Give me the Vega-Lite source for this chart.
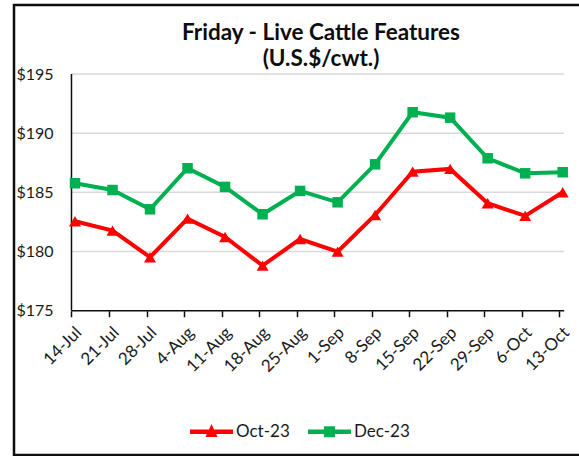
{
  "$schema": "https://vega.github.io/schema/vega-lite/v6.json",
  "width": 565,
  "height": 450,
  "autosize": "none",
  "padding": {"left": 14, "top": 5, "right": 0, "bottom": 1},
  "background": "white",
  "config": {
    "font": "Lato",
    "view": {"stroke": "#0d0d0d", "strokeWidth": 2.5, "strokeDash": [565, 450, 1015]}
  },
  "title": {
    "text": ["Friday - Live Cattle Features", "(U.S.$/cwt.)"],
    "font": "Lato",
    "fontSize": 22.5,
    "fontWeight": "bold",
    "color": "#0d0d0d",
    "anchor": "middle",
    "frame": "group",
    "dx": 24.5,
    "offset": -65,
    "baseline": "top",
    "lineHeight": 26
  },
  "datasets": {
    "prices": [
      {"date": "2023-07-14T00:00", "series": "Oct-23", "price": 182.56},
      {"date": "2023-07-21T00:00", "series": "Oct-23", "price": 181.77},
      {"date": "2023-07-28T00:00", "series": "Oct-23", "price": 179.52},
      {"date": "2023-08-04T00:00", "series": "Oct-23", "price": 182.78},
      {"date": "2023-08-11T00:00", "series": "Oct-23", "price": 181.23},
      {"date": "2023-08-18T00:00", "series": "Oct-23", "price": 178.81},
      {"date": "2023-08-25T00:00", "series": "Oct-23", "price": 181.06},
      {"date": "2023-09-01T00:00", "series": "Oct-23", "price": 179.99},
      {"date": "2023-09-08T00:00", "series": "Oct-23", "price": 183.09},
      {"date": "2023-09-15T00:00", "series": "Oct-23", "price": 186.75},
      {"date": "2023-09-22T00:00", "series": "Oct-23", "price": 186.98},
      {"date": "2023-09-29T00:00", "series": "Oct-23", "price": 184.08},
      {"date": "2023-10-06T00:00", "series": "Oct-23", "price": 183.01},
      {"date": "2023-10-13T00:00", "series": "Oct-23", "price": 185.01},
      {"date": "2023-07-14T00:00", "series": "Dec-23", "price": 185.77},
      {"date": "2023-07-21T00:00", "series": "Dec-23", "price": 185.20},
      {"date": "2023-07-28T00:00", "series": "Dec-23", "price": 183.57},
      {"date": "2023-08-04T00:00", "series": "Dec-23", "price": 187.04},
      {"date": "2023-08-11T00:00", "series": "Dec-23", "price": 185.46},
      {"date": "2023-08-18T00:00", "series": "Dec-23", "price": 183.15},
      {"date": "2023-08-25T00:00", "series": "Dec-23", "price": 185.12},
      {"date": "2023-09-01T00:00", "series": "Dec-23", "price": 184.16},
      {"date": "2023-09-08T00:00", "series": "Dec-23", "price": 187.37},
      {"date": "2023-09-15T00:00", "series": "Dec-23", "price": 191.77},
      {"date": "2023-09-22T00:00", "series": "Dec-23", "price": 191.31},
      {"date": "2023-09-29T00:00", "series": "Dec-23", "price": 187.88},
      {"date": "2023-10-06T00:00", "series": "Dec-23", "price": 186.61},
      {"date": "2023-10-13T00:00", "series": "Dec-23", "price": 186.70}
    ],
    "grid": [{"v": 180}, {"v": 185}, {"v": 190}, {"v": 195}]
  },
  "layer": [
    {
      "data": {"name": "grid"},
      "mark": {"type": "rule", "color": "#d9d9d9", "strokeWidth": 1.5, "xOffset": -3.5, "x2Offset": 1.5},
      "encoding": {
        "y": {"field": "v", "type": "quantitative"},
        "x": {"datum": {"year": 2023, "month": 7, "date": 14}, "type": "temporal"},
        "x2": {"datum": {"year": 2023, "month": 10, "date": 13}}
      }
    },
    {
      "data": {"name": "grid"},
      "transform": [{"filter": "datum.v === 180"}],
      "mark": {"type": "rule", "color": "#0d0d0d", "strokeWidth": 1.5, "xOffset": -3.5, "x2Offset": 1.5},
      "encoding": {
        "y": {"datum": 175, "type": "quantitative"},
        "x": {"datum": {"year": 2023, "month": 7, "date": 14}, "type": "temporal"},
        "x2": {"datum": {"year": 2023, "month": 10, "date": 13}}
      }
    },
    {
      "data": {"name": "grid"},
      "transform": [{"filter": "datum.v === 180"}],
      "mark": {"type": "rule", "color": "#0d0d0d", "strokeWidth": 1.5, "xOffset": -3.5},
      "encoding": {
        "x": {"datum": {"year": 2023, "month": 7, "date": 14}, "type": "temporal"},
        "y": {"datum": 175, "type": "quantitative"},
        "y2": {"datum": 195}
      }
    },
    {
      "data": {"name": "prices"},
      "mark": {"type": "line", "strokeWidth": 4},
      "encoding": {
        "x": {
          "field": "date", "type": "temporal",
          "scale": {"domain": [{"year": 2023, "month": 7, "date": 2, "hours": 14, "minutes": 53}, {"year": 2023, "month": 10, "date": 16, "hours": 1}]},
          "axis": {
            "title": null,
            "values": [
              {"year": 2023, "month": 7, "date": 14}, {"year": 2023, "month": 7, "date": 21}, {"year": 2023, "month": 7, "date": 28},
              {"year": 2023, "month": 8, "date": 4}, {"year": 2023, "month": 8, "date": 11}, {"year": 2023, "month": 8, "date": 18},
              {"year": 2023, "month": 8, "date": 25}, {"year": 2023, "month": 9, "date": 1}, {"year": 2023, "month": 9, "date": 8},
              {"year": 2023, "month": 9, "date": 15}, {"year": 2023, "month": 9, "date": 22}, {"year": 2023, "month": 9, "date": 29},
              {"year": 2023, "month": 10, "date": 6}, {"year": 2023, "month": 10, "date": 13}
            ],
            "format": "%-d-%b",
            "labelAngle": -45,
            "labelAlign": "right",
            "labelBaseline": "middle",
            "labelFont": "Lato",
            "labelFontSize": 17,
            "labelColor": "#1a1a1a",
            "labelPadding": 13,
            "labelOffset": 7,
            "labelOverlap": false,
            "labelBound": false,
            "labelFlush": false,
            "domain": false,
            "grid": false,
            "ticks": true,
            "tickColor": "#0d0d0d",
            "tickWidth": 1.5,
            "tickSize": 6,
            "tickOffset": -3.5,
            "offset": -144.3
          }
        },
        "y": {
          "field": "price", "type": "quantitative",
          "scale": {"domain": [162.81, 200.83], "nice": false, "zero": false},
          "axis": {
            "title": null,
            "values": [175, 180, 185, 190, 195],
            "labelExpr": "'$' + datum.value",
            "labelFont": "Lato",
            "labelFontSize": 16,
            "labelColor": "#1a1a1a",
            "domain": false,
            "ticks": false,
            "grid": false,
            "offset": -58,
            "labelPadding": 19
          }
        },
        "color": {
          "field": "series", "type": "nominal",
          "scale": {"domain": ["Oct-23", "Dec-23"], "range": ["#FF0000", "#00B050"]},
          "legend": {
            "orient": "none",
            "legendX": 176,
            "legendY": 405,
            "direction": "horizontal",
            "title": null,
            "padding": 0,
            "labelFont": "Lato",
            "labelFontSize": 17,
            "labelColor": "#1a1a1a",
            "labelOffset": 3,
            "columnPadding": 18,
            "symbolSize": 1849,
            "encode": {
              "symbols": {
                "update": {
                  "shape": {"signal": "datum.value === 'Oct-23' ? 'M-1,-0.1H1V0.1H-1Z M-0.28,0.24L0,-0.36L0.28,0.24Z' : 'M-1,-0.1H1V0.1H-1Z M-0.26,-0.26H0.26V0.26H-0.26Z'"},
                  "fill": {"scale": "color", "field": "value"},
                  "stroke": {"value": "transparent"},
                  "strokeWidth": {"value": 0},
                  "opacity": {"value": 1},
                  "fillOpacity": {"value": 1}
                }
              }
            }
          }
        }
      }
    },
    {
      "data": {"name": "prices"},
      "transform": [{"filter": "datum.series === 'Oct-23'"}],
      "mark": {"type": "point", "filled": true, "opacity": 1, "shape": "triangle-up", "size": 144},
      "encoding": {
        "x": {"field": "date", "type": "temporal"},
        "y": {"field": "price", "type": "quantitative"},
        "color": {"field": "series", "type": "nominal", "legend": null}
      }
    },
    {
      "data": {"name": "prices"},
      "transform": [{"filter": "datum.series === 'Dec-23'"}],
      "mark": {"type": "point", "filled": true, "opacity": 1, "shape": "square", "size": 110},
      "encoding": {
        "x": {"field": "date", "type": "temporal"},
        "y": {"field": "price", "type": "quantitative"},
        "color": {"field": "series", "type": "nominal", "legend": null}
      }
    }
  ]
}
